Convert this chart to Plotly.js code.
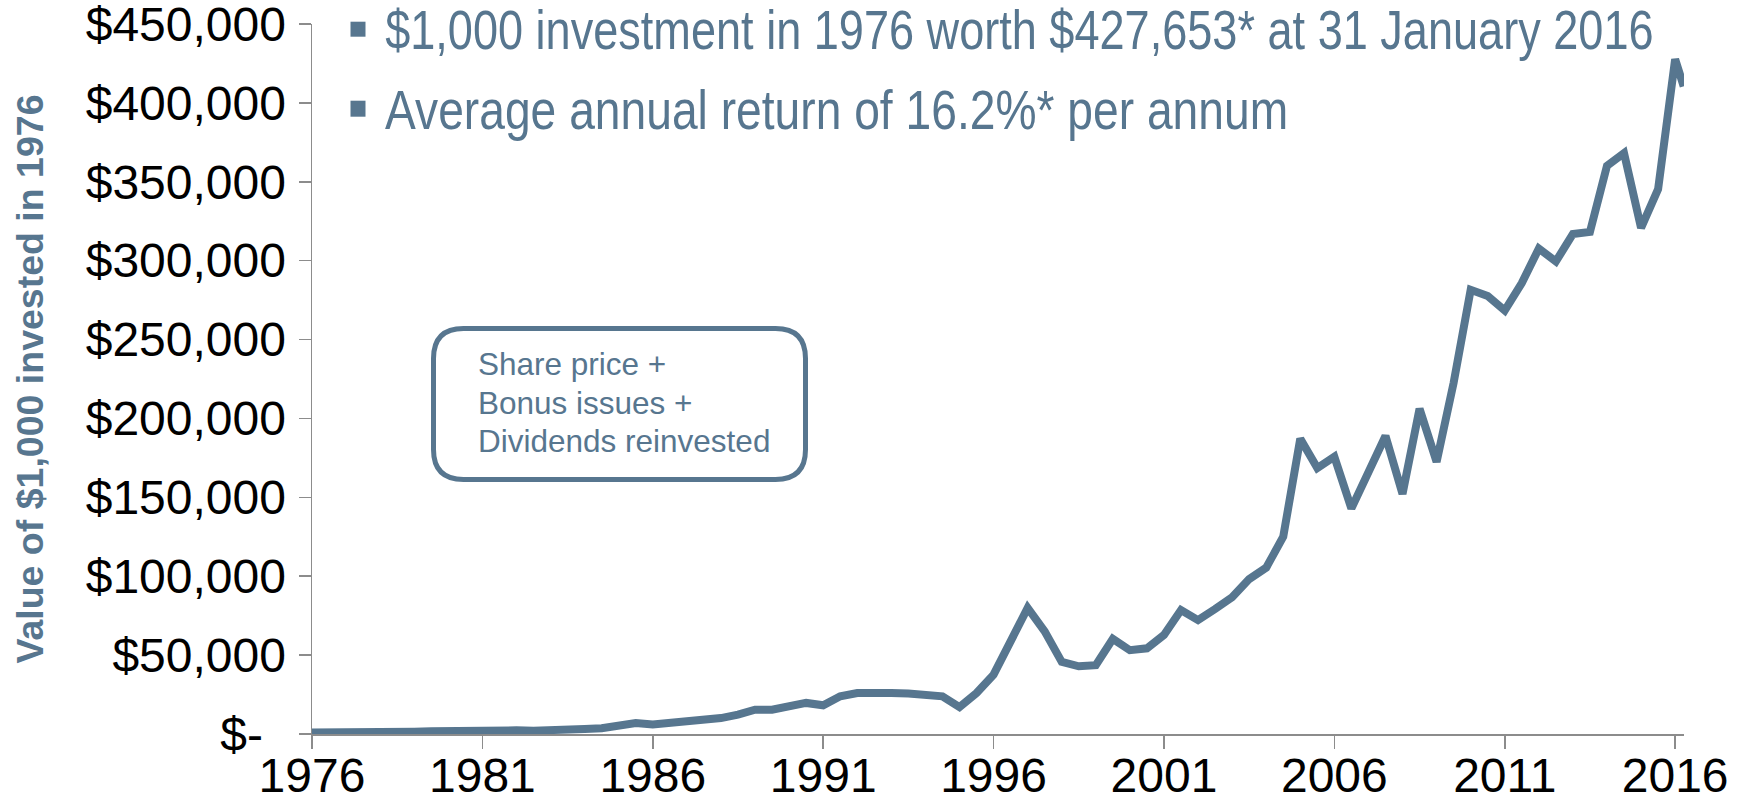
<!DOCTYPE html>
<html>
<head>
<meta charset="utf-8">
<script src="https://cdn.plot.ly/plotly-3.0.1.min.js"></script>
<style>
  html, body { margin: 0; padding: 0; background: #ffffff; }
  #chart { width: 1741px; height: 804px; }
</style>
</head>
<body>
<div id="chart"></div>
<script>
// ---- Data (semi-annual points, value of $1,000 invested in 1976, in $) ----
const years = [
  1976.0, 1976.5, 1977.0, 1977.5, 1978.0, 1978.5, 1979.0, 1979.5, 1980.0, 1980.5,
  1981.0, 1981.5, 1982.0, 1982.5, 1983.0, 1983.5, 1984.0, 1984.5, 1985.0, 1985.5,
  1986.0, 1986.5, 1987.0, 1987.5, 1988.0, 1988.5, 1989.0, 1989.5, 1990.0, 1990.5,
  1991.0, 1991.5, 1992.0, 1992.5, 1993.0, 1993.5, 1994.0, 1994.5, 1995.0, 1995.5,
  1996.0, 1996.5, 1997.0, 1997.5, 1998.0, 1998.5, 1999.0, 1999.5, 2000.0, 2000.5,
  2001.0, 2001.5, 2002.0, 2002.5, 2003.0, 2003.5, 2004.0, 2004.5, 2005.0, 2005.5,
  2006.0, 2006.5, 2007.0, 2007.5, 2008.0, 2008.5, 2009.0, 2009.5, 2010.0, 2010.5,
  2011.0, 2011.5, 2012.0, 2012.5, 2013.0, 2013.5, 2014.0, 2014.5, 2015.0, 2015.5,
  2016.0, 2016.25
];
const values = [
  1000, 900, 900, 1000, 1100, 1300, 1500, 1800, 2100, 2200,
  2300, 2700, 2300, 2100, 2100, 2300, 3200, 3600, 4900, 6900,
  6000, 6900, 7900, 9300, 10100, 12300, 15400, 15400, 17500, 19700,
  18200, 23900, 26000, 26400, 26000, 25600, 24900, 23900, 17100, 26000,
  37600, 59800, 79900, 65100, 45700, 42900, 43600, 60300, 53100, 54300,
  62800, 78600, 72200, 79200, 86700, 98200, 105400, 125000, 187200, 168600,
  175800, 143000, 166900, 188900, 152200, 206200, 172500, 222600, 281500, 277600,
  268400, 285800, 307700, 299500, 316900, 318200, 360100, 368200, 320800, 345300,
  427653, 410500
];

// Axis ticks
const xTickVals = [1976, 1981, 1986, 1991, 1996, 2001, 2006, 2011, 2016];
const xTickText = ["1976", "1981", "1986", "1991", "1996", "2001", "2006", "2011", "2016"];
const yTickVals = [0, 50000, 100000, 150000, 200000, 250000, 300000, 350000, 400000, 450000];
const yTickText = ["$-\u00a0\u2009", "$50,000", "$100,000", "$150,000", "$200,000", "$250,000",
                   "$300,000", "$350,000", "$400,000", "$450,000"];

// Text
const headline1 = "$1,000 investment in 1976 worth $427,653* at 31 January 2016";
const headline2 = "Average annual return of 16.2%* per annum";
const boxLines = ["Share price +", "Bonus issues +", "Dividends reinvested"];
const yTitle = "Value of $1,000 invested in 1976";

// ---- Layout geometry ----
const W = 1741, H = 804;
const M = { l: 312, r: 57, t: 24, b: 70 };
const PW = W - M.l - M.r, PH = H - M.t - M.b;
const px = x => (x - M.l) / PW;          // pixel x -> paper x
const py = y => (H - M.b - y) / PH;      // pixel y -> paper y

const blue = "#57768F";
const axisGrey = "#8C8C8C";
const sans = "Liberation Sans, Arial, sans-serif";
const tickFont = { family: sans, size: 48, color: "#000000" };
const narrow = "Liberation Sans Narrow, Arial Narrow, Liberation Sans, Arial, sans-serif";
const NARROW_SCALE = [0.82, 0.84]; // condensed look of the headline texts

// rounded rectangle path in paper coordinates from pixel box
function roundRect(x0, y0, x1, y1, r) {
  const X0 = px(x0), X1 = px(x1), Y0 = py(y0), Y1 = py(y1);
  const rx = r / PW, ry = r / PH;
  return `M ${X0 + rx},${Y0} L ${X1 - rx},${Y0} Q ${X1},${Y0} ${X1},${Y0 - ry} ` +
         `L ${X1},${Y1 + ry} Q ${X1},${Y1} ${X1 - rx},${Y1} ` +
         `L ${X0 + rx},${Y1} Q ${X0},${Y1} ${X0},${Y1 + ry} ` +
         `L ${X0},${Y0 - ry} Q ${X0},${Y0} ${X0 + rx},${Y0} Z`;
}

const trace = {
  x: years,
  y: values,
  type: "scatter",
  mode: "lines",
  line: { color: blue, width: 8, shape: "linear" },
  hoverinfo: "x+y",
  showlegend: false
};

const boxLineY = [364, 402.5, 441];

const layout = {
  width: W,
  height: H,
  margin: M,
  paper_bgcolor: "#ffffff",
  plot_bgcolor: "#ffffff",
  showlegend: false,
  xaxis: {
    range: [1976, 2016.26],
    tickmode: "array",
    tickvals: xTickVals,
    ticktext: xTickText,
    ticks: "outside",
    ticklen: 13,
    tickwidth: 1.5,
    tickcolor: axisGrey,
    showline: true,
    linecolor: axisGrey,
    linewidth: 1.5,
    showgrid: false,
    zeroline: false,
    tickfont: tickFont,
    ticklabelstandoff: -14,
    ticklabeloverflow: "allow",
    fixedrange: true
  },
  yaxis: {
    range: [0, 450000],
    tickmode: "array",
    tickvals: yTickVals,
    ticktext: yTickText,
    ticks: "outside",
    ticklen: 12,
    tickwidth: 1.5,
    tickcolor: axisGrey,
    showline: true,
    linecolor: axisGrey,
    linewidth: 1.5,
    showgrid: false,
    zeroline: false,
    tickfont: tickFont,
    ticklabelstandoff: 3,
    ticklabeloverflow: "allow",
    title: {
      text: yTitle,
      font: { family: sans, size: 37.5, color: blue, weight: "bold" },
      standoff: 30
    },
    fixedrange: true
  },
  shapes: [
    { type: "rect", xref: "paper", yref: "paper",
      x0: px(350.5), x1: px(365.5), y0: py(36.7), y1: py(21.7),
      fillcolor: blue, line: { width: 0 } },
    { type: "rect", xref: "paper", yref: "paper",
      x0: px(350.5), x1: px(365.5), y0: py(116.7), y1: py(100.7),
      fillcolor: blue, line: { width: 0 } },
    { type: "path", xref: "paper", yref: "paper",
      path: roundRect(433.5, 328.5, 805.5, 479.5, 30),
      line: { color: blue, width: 5 }, fillcolor: "rgba(255,255,255,0)" }
  ],
  annotations: [
    { xref: "paper", yref: "paper", x: px(383), y: py(30), xanchor: "left", yanchor: "middle",
      text: headline1, showarrow: false,
      font: { family: narrow, size: 55, color: blue } },
    { xref: "paper", yref: "paper", x: px(383), y: py(110), xanchor: "left", yanchor: "middle",
      text: headline2, showarrow: false,
      font: { family: narrow, size: 55, color: blue } }
  ].concat(boxLines.map((t, i) => ({
      xref: "paper", yref: "paper", x: px(476), y: py(boxLineY[i]),
      xanchor: "left", yanchor: "middle", align: "left",
      text: t, showarrow: false,
      font: { family: sans, size: 31.5, color: blue } })))
};

Plotly.newPlot("chart", [trace], layout, { displayModeBar: false, staticPlot: true })
  .then(gd => {
    // condense the two headline texts horizontally, keeping their left edge
    [0, 1].forEach(i => {
      const t = gd.querySelector(`.annotation[data-index="${i}"] text.annotation-text`);
      if (!t) return;
      const bb = t.getBBox();
      t.setAttribute("transform",
        `translate(${bb.x},0) scale(${NARROW_SCALE[i]},1) translate(${-bb.x},0)`);
    });
  });
</script>
</body>
</html>
